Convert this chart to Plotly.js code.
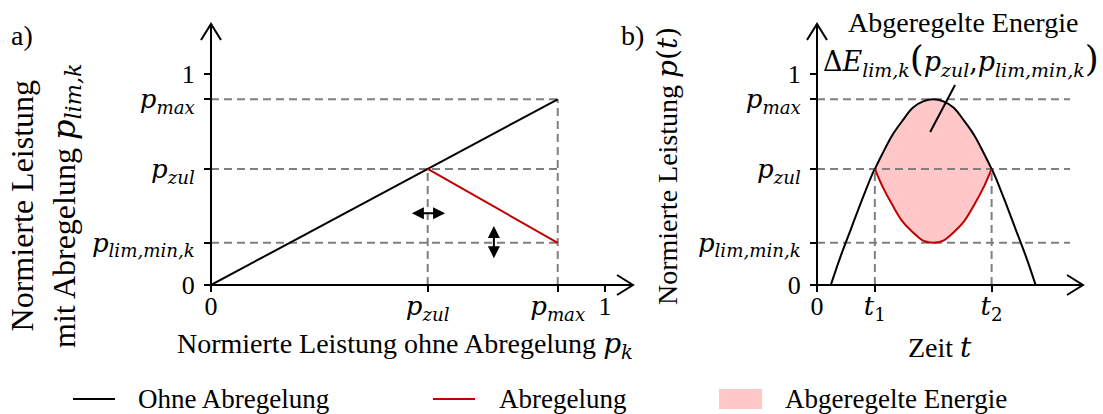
<!DOCTYPE html>
<html>
<head>
<meta charset="utf-8">
<script src="https://cdn.plot.ly/plotly-3.0.1.min.js"></script>
<style>
  html, body { margin: 0; padding: 0; background: #fff; }
  #chart { width: 1103px; height: 414px; }
</style>
</head>
<body>
<div id="chart"></div>
<script>
// Characteristic power levels (normalised)
const pZul = 0.55;      // permitted feed-in
const pMax = 0.88;      // maximum power
const pLimMin = 0.2;    // minimum curtailment limit

// a) curtailment characteristic
const charX = [0, pMax];
const charY = [0, pMax];
const limX = [pZul, pMax];
const limY = [pZul, pLimMin];

// b) daily power curve without curtailment
const timeT = [0.052, 0.09, 0.129, 0.168, 0.206, 0.2175, 0.245, 0.283, 0.322, 0.36, 0.399,
               0.437, 0.475, 0.514, 0.552, 0.591, 0.629, 0.6565, 0.668, 0.706, 0.745, 0.784, 0.822];
const powerT = [0.00, 0.14, 0.27, 0.40, 0.52, 0.55, 0.62, 0.71, 0.78, 0.84, 0.87,
                0.88, 0.87, 0.84, 0.78, 0.71, 0.62, 0.55, 0.52, 0.40, 0.27, 0.14, 0.00];
// b) power curve with curtailment between t1 and t2
const limT = [0.2175, 0.245, 0.283, 0.322, 0.36, 0.399, 0.437, 0.475, 0.514, 0.552, 0.591, 0.629, 0.6565];
const limP = [0.55, 0.47, 0.38, 0.30, 0.25, 0.21, 0.20, 0.21, 0.25, 0.30, 0.38, 0.47, 0.55];
const t1 = 0.2175, t2 = 0.6565;

// tick labels
const serif = 'Liberation Serif, Times New Roman, serif';
const m = s => `<span style="font-family:'DejaVu Serif'">${s}</span>`;
const lblPmax = m('<i>p</i><sub><i>max</i></sub>');
const lblPzul = m('<i>p</i><sub><i>zul</i></sub>');
const lblPlim = m('<i>p</i><sub><i>lim,min,k</i></sub>');
const yTickVals = [0, pLimMin, pZul, pMax, 1];
const yTickText = ['0', lblPlim, lblPzul, lblPmax, '1'];
const xTickValsA = [0, pZul, pMax, 1];
const xTickTextA = ['0', lblPzul, lblPmax, '1'];
const xTickValsB = [0, t1, t2];
const xTickTextB = ['0', m('<i>t</i><sub>1</sub>'), m('<i>t</i><sub>2</sub>')];

const W = 1103, H = 414;
const px = v => v / W;
const py = v => 1 - v / H;

// plot frames (pixel positions of the axes)
const yTop = 24, yBot = 285;
const yMax = 1.237;
const aLeft = 211, aRight = 633, aScale = 394;   // px per unit, panel a
const bLeft = 817, bRight = 1083;
const xMaxA = (aRight - aLeft) / aScale;
const xMaxB = 1;

const dashStyle = { color: '#7f7f7f', width: 2, dash: '8px,5px' };
const black = '#000000';
const red = '#c00000';
const pink = '#ffc7c7';

// dashed guide lines
const guideA = {
  x: [0, pMax, null, 0, pMax, null, 0, pMax, null, pZul, pZul, null, pMax, pMax],
  y: [pMax, pMax, null, pZul, pZul, null, pLimMin, pLimMin, null, 0, pZul, null, 0, pMax]
};
const guideEndB = 0.951;
const guideB = {
  x: [0, guideEndB, null, 0, guideEndB, null, 0, guideEndB, null, t1, t1, null, t2, t2],
  y: [pMax, pMax, null, pZul, pZul, null, pLimMin, pLimMin, null, 0, pZul, null, 0, pZul]
};

// upper boundary of the curtailed energy (unconstrained curve between t1 and t2)
const arcT = [], arcP = [];
timeT.forEach((t, i) => { if (t >= t1 && t <= t2) { arcT.push(t); arcP.push(powerT[i]); } });

const traces = [
  { x: guideA.x, y: guideA.y, xaxis: 'x', yaxis: 'y', mode: 'lines', line: dashStyle,
    showlegend: false, hoverinfo: 'skip', cliponaxis: false },
  { x: charX, y: charY, xaxis: 'x', yaxis: 'y', mode: 'lines', line: { color: black, width: 2 },
    name: 'Ohne Abregelung', showlegend: false, cliponaxis: false },
  { x: limX, y: limY, xaxis: 'x', yaxis: 'y', mode: 'lines', line: { color: red, width: 2 },
    name: 'Abregelung', showlegend: false, cliponaxis: false },

  { x: arcT, y: arcP, xaxis: 'x2', yaxis: 'y2', mode: 'lines', line: { width: 0, shape: 'spline' },
    showlegend: false, hoverinfo: 'skip' },
  { x: limT, y: limP, xaxis: 'x2', yaxis: 'y2', mode: 'lines', line: { width: 0, shape: 'spline' },
    fill: 'tonexty', fillcolor: pink, name: 'Abgeregelte Energie', showlegend: false },
  { x: guideB.x, y: guideB.y, xaxis: 'x2', yaxis: 'y2', mode: 'lines', line: dashStyle,
    showlegend: false, hoverinfo: 'skip', cliponaxis: false },
  { x: timeT, y: powerT, xaxis: 'x2', yaxis: 'y2', mode: 'lines',
    line: { color: black, width: 2, shape: 'spline' }, showlegend: false, cliponaxis: false },
  { x: limT, y: limP, xaxis: 'x2', yaxis: 'y2', mode: 'lines',
    line: { color: red, width: 2, shape: 'spline' }, showlegend: false, cliponaxis: false }
];

const axisBase = {
  showgrid: false, zeroline: false, showline: false,
  ticks: 'outside', ticklen: 6, tickwidth: 2, tickcolor: black,
  tickmode: 'array', tickfont: { family: serif, size: 26, color: black },
  fixedrange: true
};

const yDomain = [py(yBot), py(yTop)];

// axis lines with open arrow heads, placed on the plot frame edges
const seg = path => ({
  type: 'path', xref: 'paper', yref: 'paper', path, line: { color: black, width: 2 }, layer: 'above'
});
const P = (x, y) => `${px(x)},${py(y)}`;
const axisShapes = (left, right) => [
  seg(`M${P(left, yBot)} L${P(left, yTop)}`),
  seg(`M${P(left - 1, yBot)} L${P(right, yBot)}`),
  seg(`M${P(left - 10, yTop + 16)} L${P(left, yTop)} L${P(left + 10, yTop + 16)}`),
  seg(`M${P(right - 16, yBot - 10)} L${P(right, yBot)} L${P(right - 16, yBot + 10)}`)
];

const shapes = [
  ...axisShapes(aLeft, aRight),
  ...axisShapes(bLeft, bRight),
  // pointer to the curtailed energy
  { type: 'line', xref: 'x2', yref: 'y2', x0: 0.519, y0: 0.948, x1: 0.4255, y1: 0.725,
    line: { color: black, width: 2 } },
  // legend keys
  { type: 'line', xref: 'paper', yref: 'paper', x0: px(73), x1: px(115), y0: py(399), y1: py(399),
    line: { color: black, width: 2 } },
  { type: 'line', xref: 'paper', yref: 'paper', x0: px(433), x1: px(475), y0: py(399), y1: py(399),
    line: { color: red, width: 2 } },
  { type: 'rect', xref: 'paper', yref: 'paper', x0: px(719), x1: px(762), y0: py(409), y1: py(389),
    fillcolor: pink, line: { width: 0 } }
];

const txt = (x, y, text, size, extra) => Object.assign({
  xref: 'paper', yref: 'paper', x: px(x), y: py(y), text, showarrow: false,
  font: { family: serif, size, color: black }, xanchor: 'center', yanchor: 'middle'
}, extra || {});

// adjustment arrows (shift of p_zul and of p_lim,min,k)
const dblArrow = (xref, yref, x, y, ax, ay) => ({
  xref, yref, axref: xref, ayref: yref, x, y, ax, ay, text: '', showarrow: true,
  arrowside: 'end+start', arrowhead: 2, startarrowhead: 2, arrowsize: 1.2, startarrowsize: 1.2,
  arrowwidth: 2, arrowcolor: black, standoff: 0, startstandoff: 0
});

const annotations = [
  txt(22, 36, 'a)', 28),
  txt(632, 36, 'b)', 28),
  txt(45, 206, 'Normierte Leistung<br>mit Abregelung ' + m('<i>p</i><sub><i>lim,k</i></sub>'), 32,
      { textangle: -90 }),
  txt(667, 166, 'Normierte Leistung ' + m('<i>p</i>(<i>t</i>)'), 28, { textangle: -90 }),
  txt(405, 345, 'Normierte Leistung ohne Abregelung ' + m('<i>p</i><sub><i>k</i></sub>'), 28),
  txt(940, 347, 'Zeit ' + m('<i>t</i>'), 28),
  txt(963, 22, 'Abgeregelte Energie', 28),
  txt(961, 60, m('Δ<i>E</i><sub><i>lim,k</i></sub><span style="font-size:36px">(</span><i>p</i><sub><i>zul</i></sub>,<i>p</i><sub><i>lim,min,k</i></sub><span style="font-size:36px">)</span>'), 27),
  txt(136, 399, 'Ohne Abregelung', 27, { xanchor: 'left' }),
  txt(497, 399, 'Abregelung', 27, { xanchor: 'left' }),
  txt(783, 399, 'Abgeregelte Energie', 27, { xanchor: 'left' }),
  dblArrow('x', 'y', pZul + 0.044, 0.34, pZul - 0.044, 0.34),
  dblArrow('x', 'y', 0.718, pLimMin + 0.08, 0.718, pLimMin - 0.08)
];

const layout = {
  width: W, height: H,
  margin: { l: 0, r: 0, t: 0, b: 0 },
  paper_bgcolor: '#ffffff', plot_bgcolor: 'rgba(0,0,0,0)',
  showlegend: false,
  xaxis: Object.assign({}, axisBase, {
    domain: [px(aLeft), px(aRight)], range: [0, xMaxA],
    tickvals: xTickValsA, ticktext: xTickTextA, anchor: 'y', ticklabelstandoff: -8
  }),
  yaxis: Object.assign({}, axisBase, {
    domain: yDomain, range: [0, yMax], tickvals: yTickVals, ticktext: yTickText,
    anchor: 'x', ticklabelstandoff: 4
  }),
  xaxis2: Object.assign({}, axisBase, {
    domain: [px(bLeft), px(bRight)], range: [0, xMaxB],
    tickvals: xTickValsB, ticktext: xTickTextB, anchor: 'y2', ticklabelstandoff: -8
  }),
  yaxis2: Object.assign({}, axisBase, {
    domain: yDomain, range: [0, yMax], tickvals: yTickVals, ticktext: yTickText,
    anchor: 'x2', ticklabelstandoff: 4
  }),
  shapes, annotations
};

Plotly.newPlot('chart', traces, layout, { staticPlot: true, displayModeBar: false });
</script>
</body>
</html>
